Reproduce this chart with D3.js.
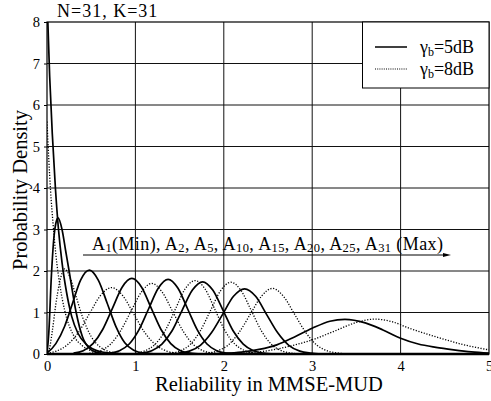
<!DOCTYPE html>
<html>
<head>
<meta charset="utf-8">
<script src="https://cdn.jsdelivr.net/npm/d3@7"></script>
<style>
  html, body { margin: 0; padding: 0; background: #fff; }
  svg { display: block; }
  svg text { font-family: "Liberation Serif", Tinos, "Times New Roman", "DejaVu Serif", serif; fill: #000; }
</style>
</head>
<body>
<div id="chart"></div>
<script>
// Reliability densities of the MMSE-MUD output, one curve per user index.
// Each curve is a list of [reliability, density] points.
const userIndex = ["1", "2", "5", "10", "15", "20", "25", "31"];

// gamma_b = 5 dB (solid)
const solidA1  = [[0,8.6],[0.03,6.7],[0.06,5.3],[0.095,4.0],[0.13,3.0],[0.17,2.2],[0.22,1.5],[0.28,0.9],[0.35,0.5],[0.45,0.22],[0.6,0.06],[0.8,0.01],[1.0,0]];
const solidA2  = [[0,0],[0.02,0.5],[0.05,1.9],[0.08,2.85],[0.1,3.15],[0.125,3.28],[0.17,3.0],[0.21,2.5],[0.25,2.0],[0.33,1.0],[0.4,0.42],[0.5,0.1],[0.6,0.02],[0.7,0]];
const solidA5  = [[0,0.02],[0.1,0.25],[0.2,0.67],[0.29,1.23],[0.38,1.78],[0.48,2.02],[0.58,1.78],[0.68,1.23],[0.78,0.66],[0.88,0.27],[0.98,0.09],[1.1,0.02],[1.25,0]];
const solidA10 = [[0.3,0.02],[0.41,0.08],[0.52,0.25],[0.63,0.59],[0.74,1.1],[0.85,1.61],[0.96,1.82],[1.07,1.61],[1.18,1.1],[1.29,0.59],[1.4,0.25],[1.51,0.08],[1.62,0.02],[1.75,0]];
const solidA15 = [[0.71,0.02],[0.82,0.08],[0.93,0.24],[1.04,0.58],[1.15,1.09],[1.26,1.59],[1.37,1.8],[1.48,1.59],[1.59,1.09],[1.7,0.58],[1.81,0.24],[1.92,0.08],[2.03,0.02],[2.15,0]];
const solidA20 = [[1.07,0.02],[1.185,0.08],[1.3,0.24],[1.415,0.56],[1.53,1.06],[1.645,1.54],[1.76,1.74],[1.875,1.54],[1.99,1.06],[2.105,0.56],[2.22,0.24],[2.335,0.08],[2.45,0.02],[2.57,0]];
const solidA25 = [[1.485,0.02],[1.61,0.07],[1.735,0.21],[1.86,0.51],[1.985,0.95],[2.11,1.39],[2.235,1.57],[2.36,1.39],[2.485,0.95],[2.61,0.51],[2.735,0.21],[2.86,0.07],[2.985,0.02],[3.11,0]];
const solidA31 = [[1.8,0],[2.0,0.014],[2.2,0.045],[2.4,0.11],[2.6,0.22],[2.8,0.41],[3.0,0.62],[3.2,0.79],[3.37,0.835],[3.6,0.75],[3.8,0.58],[4.0,0.38],[4.2,0.24],[4.4,0.16],[4.6,0.1],[4.8,0.05],[5.0,0.02]];

// gamma_b = 8 dB (dotted)
const dottedA1  = [[0,5.6],[0.02,4.7],[0.04,3.95],[0.07,3.1],[0.1,2.4],[0.15,1.6],[0.2,1.05],[0.3,0.45],[0.4,0.2],[0.5,0.08],[0.65,0.02],[0.8,0]];
const dottedA2  = [[0,0],[0.03,0.15],[0.06,0.55],[0.1,1.2],[0.14,1.7],[0.2,2.05],[0.26,1.85],[0.32,1.45],[0.4,0.9],[0.5,0.42],[0.6,0.17],[0.7,0.06],[0.8,0.02],[0.9,0]];
const dottedA5  = [[0,0.02],[0.105,0.07],[0.23,0.22],[0.355,0.52],[0.48,0.97],[0.605,1.41],[0.73,1.6],[0.855,1.41],[0.98,0.97],[1.105,0.52],[1.23,0.22],[1.355,0.07],[1.48,0.02],[1.6,0]];
const dottedA10 = [[0.48,0.02],[0.6,0.075],[0.715,0.23],[0.83,0.55],[0.95,1.03],[1.07,1.5],[1.185,1.7],[1.3,1.5],[1.42,1.03],[1.54,0.55],[1.655,0.23],[1.77,0.075],[1.89,0.02],[2.0,0]];
const dottedA15 = [[1.0,0.02],[1.11,0.078],[1.225,0.24],[1.34,0.575],[1.45,1.07],[1.56,1.56],[1.675,1.77],[1.79,1.56],[1.9,1.07],[2.01,0.575],[2.125,0.24],[2.24,0.078],[2.35,0.02],[2.46,0]];
const dottedA20 = [[1.39,0.02],[1.505,0.076],[1.62,0.23],[1.735,0.56],[1.85,1.05],[1.965,1.53],[2.08,1.73],[2.195,1.53],[2.31,1.05],[2.425,0.56],[2.54,0.23],[2.655,0.076],[2.77,0.02],[2.89,0]];
const dottedA25 = [[1.795,0.02],[1.92,0.07],[2.045,0.21],[2.17,0.51],[2.3,0.96],[2.425,1.39],[2.55,1.58],[2.675,1.39],[2.8,0.96],[2.93,0.51],[3.055,0.21],[3.18,0.07],[3.305,0.02],[3.43,0]];
const dottedA31 = [[2.0,0.01],[2.2,0.02],[2.5,0.08],[2.75,0.19],[3.0,0.34],[3.25,0.55],[3.5,0.76],[3.71,0.84],[3.9,0.78],[4.1,0.62],[4.3,0.48],[4.5,0.35],[4.7,0.23],[4.85,0.16],[5.0,0.1]];

const solidCurves  = [solidA1, solidA2, solidA5, solidA10, solidA15, solidA20, solidA25, solidA31];
const dottedCurves = [dottedA1, dottedA2, dottedA5, dottedA10, dottedA15, dottedA20, dottedA25, dottedA31];

const xTicks = [0, 1, 2, 3, 4, 5];
const yTicks = [0, 1, 2, 3, 4, 5, 6, 7, 8];
const legendLabels = ["5dB", "8dB"];

const W = 491, H = 401;
const margin = { left: 47, right: 2, top: 22, bottom: 47 };
const serif = '"Liberation Serif", Tinos, "Times New Roman", "DejaVu Serif", serif';

const svg = d3.select("#chart").append("svg").attr("width", W).attr("height", H)
  .attr("font-family", serif);

const x = d3.scaleLinear().domain([0, 5]).range([margin.left, W - margin.right]);
const y = d3.scaleLinear().domain([0, 8]).range([H - margin.bottom, margin.top]);

// grid
const grid = svg.append("g").attr("stroke", "#111").attr("stroke-width", 1);
grid.selectAll("line.v").data(xTicks.slice(1, -1)).join("line")
  .attr("x1", d => x(d)).attr("x2", d => x(d))
  .attr("y1", y(0)).attr("y2", y(8));
grid.selectAll("line.h").data(yTicks.slice(1, -1)).join("line")
  .attr("x1", x(0)).attr("x2", x(5))
  .attr("y1", d => y(d)).attr("y2", d => y(d));

// axes (labels only; the frame is drawn below)
const xAxis = svg.append("g").attr("transform", `translate(0,${y(0)})`)
  .call(d3.axisBottom(x).tickValues(xTicks).tickSize(0).tickPadding(7).tickFormat(d3.format("d")));
const yAxis = svg.append("g").attr("transform", `translate(${x(0)},0)`)
  .call(d3.axisLeft(y).tickValues(yTicks).tickSize(3).tickPadding(4).tickFormat(d3.format("d")));
[xAxis, yAxis].forEach(g => {
  g.attr("font-family", serif).attr("font-size", 14.5);
  g.select(".domain").remove();
  g.selectAll("text").attr("fill", "#000");
  g.selectAll(".tick line").attr("stroke", "#000");
});

// curves
svg.append("clipPath").attr("id", "plotClip").append("rect")
  .attr("x", x(0)).attr("y", y(8)).attr("width", x(5) - x(0)).attr("height", y(0) - y(8));
const line = d3.line().x(d => x(d[0])).y(d => y(d[1])).curve(d3.curveMonotoneX);
const curves = svg.append("g").attr("clip-path", "url(#plotClip)").attr("fill", "none").attr("stroke", "#000");
curves.selectAll("path.dot").data(dottedCurves).join("path")
  .attr("d", line).attr("stroke-width", 1.3).attr("stroke-dasharray", "1.2,1.6");
curves.selectAll("path.sol").data(solidCurves).join("path")
  .attr("d", line).attr("stroke-width", 1.7);

// frame
svg.append("rect").attr("x", x(0)).attr("y", y(8)).attr("width", x(5) - x(0)).attr("height", y(0) - y(8))
  .attr("fill", "none").attr("stroke", "#000").attr("stroke-width", 1.2);
svg.append("line").attr("x1", x(0)).attr("x2", x(5)).attr("y1", y(0)).attr("y2", y(0))
  .attr("stroke", "#000").attr("stroke-width", 2.4);

// axis titles
svg.append("text").attr("x", (x(0) + x(5)) / 2 + 1).attr("y", 391).attr("text-anchor", "middle")
  .attr("font-size", 20.5).text("Reliability in MMSE-MUD");
svg.append("text").attr("transform", `translate(27,${(y(0) + y(8)) / 2 + 2}) rotate(-90)`)
  .attr("text-anchor", "middle").attr("font-size", 20.5).text("Probability Density");
svg.append("text").attr("x", 57).attr("y", 17).attr("font-size", 18).attr("letter-spacing", 1)
  .text("N=31, K=31");

// legend
const lg = svg.append("g");
lg.append("rect").attr("x", 362.5).attr("y", y(8)).attr("width", x(5) - 362.5).attr("height", 66)
  .attr("fill", "#fff").attr("stroke", "#000").attr("stroke-width", 1);
legendLabels.forEach((lab, i) => {
  const ly = 47 + i * 22;
  lg.append("line").attr("x1", 375).attr("x2", 407).attr("y1", ly).attr("y2", ly)
    .attr("stroke", "#000").attr("stroke-width", i === 0 ? 1.5 : 1.1)
    .attr("stroke-dasharray", i === 0 ? null : "1,1.2");
  const t = lg.append("text").attr("x", 420).attr("y", ly + 6).attr("font-size", 18);
  t.append("tspan").text("γ");
  t.append("tspan").attr("dy", 3).attr("font-size", 12).text("b");
  t.append("tspan").attr("dy", -3).text("=" + lab);
});

// ordering annotation with arrow: A1(Min), A2, ..., A31 (Max)
const subDrop = 2.5;
const segments = [];
userIndex.forEach((s, i) => {
  const lead = i === 0 ? "A" : (i === 1 ? "(Min), A" : ", A");
  segments.push({ text: lead, dy: i === 0 ? 0 : -subDrop, sub: false });
  segments.push({ text: s, dy: subDrop, sub: true });
});
segments.push({ text: " (Max)", dy: -subDrop, sub: false });
const ann = svg.append("text").attr("x", 92).attr("y", 249.5).attr("font-size", 18)
  .attr("letter-spacing", 0.4);
segments.forEach(seg => {
  const ts = ann.append("tspan").attr("dy", seg.dy).text(seg.text);
  if (seg.sub) ts.attr("font-size", 12.5);
});
svg.append("line").attr("x1", 83).attr("x2", 444).attr("y1", 255).attr("y2", 255)
  .attr("stroke", "#000").attr("stroke-width", 1);
svg.append("path").attr("d", "M443,253 L451,255 L443,257 Z").attr("fill", "#000");
</script>
</body>
</html>
